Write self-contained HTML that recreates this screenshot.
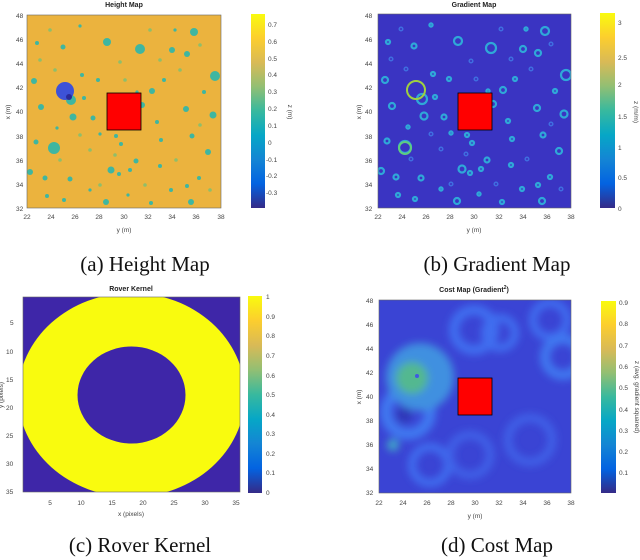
<!DOCTYPE html>
<html><head><meta charset="utf-8"><style>
body{margin:0;background:#fff;width:640px;height:560px;overflow:hidden}
svg{position:absolute;left:0;top:0}
text{font-family:"Liberation Sans",sans-serif}
.t{font-size:6.5px;fill:#444}
.ti{font-size:7px;font-weight:bold;fill:#222}
.cap{font-family:"Liberation Serif",serif;font-size:21px;fill:#111}
</style></head><body>
<svg width="640" height="560" viewBox="0 0 640 560">
<defs>
<linearGradient id="par" x1="0" y1="1" x2="0" y2="0">
<stop offset="0" stop-color="#352a87"/><stop offset="0.125" stop-color="#0363e1"/><stop offset="0.25" stop-color="#1485d4"/><stop offset="0.375" stop-color="#06a7c6"/><stop offset="0.5" stop-color="#38b99e"/><stop offset="0.625" stop-color="#92bf73"/><stop offset="0.75" stop-color="#d9ba56"/><stop offset="0.875" stop-color="#fcce2e"/><stop offset="1" stop-color="#f9fb0e"/>
</linearGradient>
<g id="blobs">
<circle cx="71" cy="100" r="5"/><circle cx="54" cy="148" r="6"/><circle cx="215" cy="76" r="5"/><circle cx="140" cy="49" r="5"/><circle cx="107" cy="42" r="4"/><circle cx="194" cy="32" r="4"/><circle cx="172" cy="50" r="3"/><circle cx="187" cy="54" r="3"/><circle cx="41" cy="107" r="3"/><circle cx="73" cy="117" r="3.5"/><circle cx="93" cy="118" r="2.5"/><circle cx="142" cy="105" r="3"/><circle cx="152" cy="91" r="3"/><circle cx="213" cy="115" r="3.5"/><circle cx="208" cy="152" r="3"/><circle cx="111" cy="170" r="3.5"/><circle cx="119" cy="174" r="2"/><circle cx="136" cy="161" r="2.5"/><circle cx="106" cy="202" r="3"/><circle cx="191" cy="202" r="3"/><circle cx="45" cy="178" r="2.5"/><circle cx="70" cy="179" r="2.5"/><circle cx="30" cy="172" r="3"/><circle cx="34" cy="81" r="3"/><circle cx="186" cy="109" r="3"/><circle cx="192" cy="136" r="2.5"/><circle cx="121" cy="144" r="2"/><circle cx="36" cy="142" r="2.5"/><circle cx="63" cy="47" r="2.5"/><circle cx="37" cy="43" r="2"/><circle cx="171" cy="190" r="2"/><circle cx="160" cy="166" r="2"/><circle cx="199" cy="178" r="2"/><circle cx="151" cy="203" r="2"/><circle cx="98" cy="80" r="2"/><circle cx="82" cy="75" r="2"/><circle cx="64" cy="200" r="2"/><circle cx="47" cy="196" r="2"/><circle cx="130" cy="170" r="2"/><circle cx="157" cy="122" r="2"/><circle cx="204" cy="92" r="2"/><circle cx="164" cy="80" r="2"/><circle cx="187" cy="186" r="2"/><circle cx="84" cy="98" r="2"/><circle cx="116" cy="136" r="2"/><circle cx="161" cy="140" r="2"/><circle cx="100" cy="134" r="1.6"/><circle cx="57" cy="128" r="1.6"/><circle cx="137" cy="92" r="1.6"/><circle cx="175" cy="30" r="1.6"/><circle cx="80" cy="26" r="1.6"/><circle cx="128" cy="195" r="1.6"/><circle cx="90" cy="190" r="1.6"/>
</g>
<g id="small">
<circle cx="50" cy="30" r="1.8"/><circle cx="150" cy="30" r="1.8"/><circle cx="120" cy="62" r="1.8"/><circle cx="55" cy="70" r="1.8"/><circle cx="180" cy="70" r="1.8"/><circle cx="200" cy="125" r="1.8"/><circle cx="90" cy="150" r="1.8"/><circle cx="60" cy="160" r="1.8"/><circle cx="176" cy="160" r="1.8"/><circle cx="145" cy="185" r="1.8"/><circle cx="100" cy="185" r="1.8"/><circle cx="210" cy="190" r="1.8"/><circle cx="40" cy="60" r="1.8"/><circle cx="160" cy="60" r="1.8"/><circle cx="115" cy="155" r="1.8"/><circle cx="80" cy="135" r="1.8"/><circle cx="200" cy="45" r="1.8"/><circle cx="125" cy="80" r="1.8"/>
</g>
<clipPath id="ca"><rect x="27" y="15" width="194" height="193"/></clipPath>
<clipPath id="cb"><rect x="378" y="14" width="193" height="194"/></clipPath>
<clipPath id="cc"><rect x="23" y="297" width="217" height="195"/></clipPath>
<clipPath id="cd"><rect x="379" y="300" width="192" height="193"/></clipPath>
<filter id="bl"><feGaussianBlur stdDeviation="4"/></filter>
</defs>

<!-- (a) Height map -->
<text class="ti" x="124" y="7" text-anchor="middle">Height Map</text>
<rect x="27" y="15" width="194" height="193" fill="#ebb33e"/>
<g clip-path="url(#ca)">
<use href="#blobs" fill="#3fb6a0"/>
<use href="#small" fill="#8fbe6a"/>
<circle cx="65" cy="91" r="9" fill="#3d52d8"/><circle cx="69" cy="97" r="3" fill="#2a2a9a"/>
</g>
<rect x="107" y="93" width="34" height="37" fill="#f00" stroke="#000" stroke-width="0.8"/>
<rect x="27" y="15" width="194" height="193" fill="none" stroke="#666" stroke-width="0.6"/>
<rect x="251" y="14" width="14" height="194" fill="url(#par)"/>
<g class="t">
<text x="16" y="18">48</text><text x="16" y="42">46</text><text x="16" y="66">44</text><text x="16" y="90">42</text><text x="16" y="114">40</text><text x="16" y="139">38</text><text x="16" y="163">36</text><text x="16" y="187">34</text><text x="16" y="211">32</text>
<text x="27" y="219" text-anchor="middle">22</text><text x="51" y="219" text-anchor="middle">24</text><text x="75" y="219" text-anchor="middle">26</text><text x="99" y="219" text-anchor="middle">28</text><text x="124" y="219" text-anchor="middle">30</text><text x="148" y="219" text-anchor="middle">32</text><text x="172" y="219" text-anchor="middle">34</text><text x="196" y="219" text-anchor="middle">36</text><text x="221" y="219" text-anchor="middle">38</text>
<text x="124" y="232" text-anchor="middle">y (m)</text>
<text x="10" y="112" transform="rotate(-90 10 112)" text-anchor="middle">x (m)</text>
<text x="268" y="27">0.7</text><text x="268" y="44">0.6</text><text x="268" y="61">0.5</text><text x="268" y="77">0.4</text><text x="268" y="94">0.3</text><text x="268" y="111">0.2</text><text x="268" y="128">0.1</text><text x="268" y="145">0</text><text x="266" y="162">-0.1</text><text x="266" y="178">-0.2</text><text x="266" y="195">-0.3</text>
<text x="288" y="112" transform="rotate(90 288 112)" text-anchor="middle">z (m)</text>
</g>
<text class="cap" x="145" y="271" text-anchor="middle">(a) Height Map</text>

<!-- (b) Gradient map -->
<text class="ti" x="474" y="7" text-anchor="middle">Gradient Map</text>
<rect x="378" y="14" width="193" height="194" fill="#3a34c2"/>
<g clip-path="url(#cb)">
<g transform="translate(351 -1)"><use href="#blobs" fill="none" stroke="#2fa8d8" stroke-width="2.2"/><use href="#small" fill="none" stroke="#3f6ee0" stroke-width="1.5"/></g>
<circle cx="416" cy="90" r="9" fill="none" stroke="#9fd040" stroke-width="2"/>
<circle cx="405" cy="148" r="6" fill="none" stroke="#5fcc80" stroke-width="2"/>
</g>
<rect x="458" y="93" width="34" height="37" fill="#f00" stroke="#000" stroke-width="0.8"/>
<rect x="378" y="14" width="193" height="194" fill="none" stroke="#666" stroke-width="0.6"/>
<rect x="600" y="13" width="15" height="195" fill="url(#par)"/>
<g class="t">
<text x="365" y="18">48</text><text x="365" y="42">46</text><text x="365" y="66">44</text><text x="365" y="90">42</text><text x="365" y="114">40</text><text x="365" y="139">38</text><text x="365" y="163">36</text><text x="365" y="187">34</text><text x="365" y="211">32</text>
<text x="378" y="219" text-anchor="middle">22</text><text x="402" y="219" text-anchor="middle">24</text><text x="426" y="219" text-anchor="middle">26</text><text x="450" y="219" text-anchor="middle">28</text><text x="474" y="219" text-anchor="middle">30</text><text x="499" y="219" text-anchor="middle">32</text><text x="523" y="219" text-anchor="middle">34</text><text x="547" y="219" text-anchor="middle">36</text><text x="571" y="219" text-anchor="middle">38</text>
<text x="474" y="232" text-anchor="middle">y (m)</text>
<text x="361" y="112" transform="rotate(-90 361 112)" text-anchor="middle">x (m)</text>
<text x="618" y="25">3</text><text x="618" y="60">2.5</text><text x="618" y="87">2</text><text x="618" y="119">1.5</text><text x="618" y="150">1</text><text x="618" y="180">0.5</text><text x="618" y="211">0</text>
<text x="634" y="112" transform="rotate(90 634 112)" text-anchor="middle">z (m/m)</text>
</g>
<text class="cap" x="497" y="271" text-anchor="middle">(b) Gradient Map</text>

<!-- (c) Rover kernel -->
<text class="ti" x="131" y="291" text-anchor="middle">Rover Kernel</text>
<rect x="23" y="297" width="217" height="195" fill="#3e26a8"/>
<g clip-path="url(#cc)">
<ellipse cx="131.5" cy="395" rx="113.5" ry="102" fill="#f9fb0e"/>
<ellipse cx="131.5" cy="395" rx="54" ry="48.5" fill="#3e26a8"/>
</g>
<rect x="23" y="297" width="217" height="195" fill="none" stroke="#666" stroke-width="0.6"/>
<rect x="248" y="296" width="14" height="197" fill="url(#par)"/>
<g class="t">
<text x="10" y="325">5</text><text x="6" y="354">10</text><text x="6" y="382">15</text><text x="6" y="410">20</text><text x="6" y="438">25</text><text x="6" y="466">30</text><text x="6" y="494">35</text>
<text x="50" y="505" text-anchor="middle">5</text><text x="81" y="505" text-anchor="middle">10</text><text x="112" y="505" text-anchor="middle">15</text><text x="143" y="505" text-anchor="middle">20</text><text x="174" y="505" text-anchor="middle">25</text><text x="205" y="505" text-anchor="middle">30</text><text x="236" y="505" text-anchor="middle">35</text>
<text x="131" y="516" text-anchor="middle">x (pixels)</text>
<text x="3" y="395" transform="rotate(-90 3 395)" text-anchor="middle">y (pixels)</text>
<text x="266" y="299">1</text><text x="266" y="319">0.9</text><text x="266" y="338">0.8</text><text x="266" y="358">0.7</text><text x="266" y="378">0.6</text><text x="266" y="397">0.5</text><text x="266" y="417">0.4</text><text x="266" y="436">0.3</text><text x="266" y="456">0.2</text><text x="266" y="475">0.1</text><text x="266" y="495">0</text>
</g>
<text class="cap" x="140" y="552" text-anchor="middle">(c) Rover Kernel</text>

<!-- (d) Cost map -->
<text class="ti" x="474" y="292" text-anchor="middle">Cost Map (Gradient<tspan dy="-3" font-size="5">2</tspan><tspan dy="3">)</tspan></text>
<rect x="379" y="300" width="192" height="193" fill="#3a44d4"/>
<g clip-path="url(#cd)" filter="url(#bl)">
<circle cx="474" cy="330" r="20" fill="none" stroke="#3f6ef0" stroke-width="10"/>
<circle cx="500" cy="333" r="15" fill="none" stroke="#3f6ef0" stroke-width="8"/>
<circle cx="550" cy="320" r="17" fill="none" stroke="#3f6ef0" stroke-width="8"/>
<circle cx="563" cy="357" r="18" fill="none" stroke="#3f78f0" stroke-width="10"/>
<circle cx="408" cy="412" r="22" fill="none" stroke="#3f78f0" stroke-width="12"/>
<circle cx="430" cy="465" r="18" fill="none" stroke="#3f6ef0" stroke-width="8"/>
<circle cx="530" cy="440" r="22" fill="none" stroke="#3f62e8" stroke-width="8"/>
<circle cx="470" cy="455" r="20" fill="none" stroke="#3f62e8" stroke-width="8"/>
<circle cx="420" cy="377" r="34" fill="#3f90e0"/>
<circle cx="412" cy="378" r="16" fill="#52b890"/>
<circle cx="404" cy="415" r="8" fill="#2f38b8"/>
<circle cx="393" cy="445" r="6" fill="#3fa8c8"/>
</g>
<circle cx="417" cy="376" r="2" fill="#3f5ae0"/>
<rect x="458" y="378" width="34" height="37" fill="#f00" stroke="#000" stroke-width="0.8"/>
<rect x="379" y="300" width="192" height="193" fill="none" stroke="#666" stroke-width="0.6"/>
<rect x="601" y="301" width="15" height="192" fill="url(#par)"/>
<g class="t">
<text x="366" y="303">48</text><text x="366" y="327">46</text><text x="366" y="351">44</text><text x="366" y="375">42</text><text x="366" y="399">40</text><text x="366" y="423">38</text><text x="366" y="447">36</text><text x="366" y="471">34</text><text x="366" y="495">32</text>
<text x="379" y="505" text-anchor="middle">22</text><text x="403" y="505" text-anchor="middle">24</text><text x="427" y="505" text-anchor="middle">26</text><text x="451" y="505" text-anchor="middle">28</text><text x="475" y="505" text-anchor="middle">30</text><text x="499" y="505" text-anchor="middle">32</text><text x="523" y="505" text-anchor="middle">34</text><text x="547" y="505" text-anchor="middle">36</text><text x="571" y="505" text-anchor="middle">38</text>
<text x="475" y="518" text-anchor="middle">y (m)</text>
<text x="361" y="397" transform="rotate(-90 361 397)" text-anchor="middle">x (m)</text>
<text x="619" y="305">0.9</text><text x="619" y="326">0.8</text><text x="619" y="348">0.7</text><text x="619" y="369">0.6</text><text x="619" y="390">0.5</text><text x="619" y="412">0.4</text><text x="619" y="433">0.3</text><text x="619" y="454">0.2</text><text x="619" y="475">0.1</text>
<text x="635" y="397" transform="rotate(90 635 397)" text-anchor="middle">z (avg. gradient squared)</text>
</g>
<text class="cap" x="497" y="552" text-anchor="middle">(d) Cost Map</text>
</svg>
</body></html>
